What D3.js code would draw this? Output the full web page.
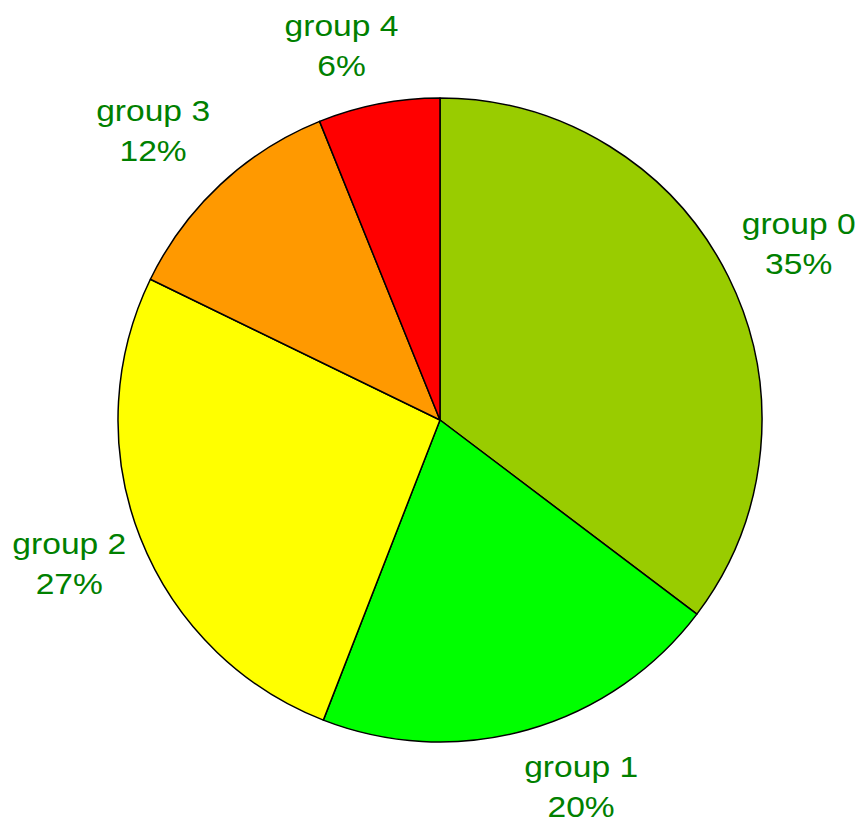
<!DOCTYPE html>
<html>
<head>
<meta charset="utf-8">
<script src="https://cdn.jsdelivr.net/npm/d3@7"></script>
<style>
  body { margin: 0; background: #fff; }
  svg text { font-family: "Liberation Sans", Arial, sans-serif; }
</style>
</head>
<body>
<div id="my_dataviz"></div>
<script>
// data (slice shares, in percent)
var groups = ["group 0", "group 1", "group 2", "group 3", "group 4"];
var shares = [35.3, 20.6, 26.3, 11.7, 6.1];
var percentLabels = ["35%", "20%", "27%", "12%", "6%"];
var sliceColors = ["#99cc00", "#00ff00", "#ffff00", "#ff9900", "#ff0000"];

// size of the page and the pie
var width = 859,
  height = 822,
  radius = 322,
  labelRadius = 337,
  stretchX = 1.12;

var svg = d3.select("#my_dataviz")
  .append("svg")
    .attr("width", width)
    .attr("height", height)
  .append("g")
    .attr("transform", "translate(440,420)");

var rows = groups.map(function(g, i) {
  return { name: g, value: shares[i], pct: percentLabels[i], color: sliceColors[i] };
});

// clockwise from 12 o'clock, no sorting
var pie = d3.pie()
  .sort(null)
  .value(function(d) { return d.value; });

var arc = d3.arc()
  .innerRadius(0)
  .outerRadius(radius);

var arcs = pie(rows);

svg.selectAll("path.slice")
  .data(arcs)
  .enter()
  .append("path")
    .attr("class", "slice")
    .attr("d", arc)
    .style("fill", function(d) { return d.data.color; })
    .style("stroke", "#000")
    .style("stroke-width", 1.5)
    .style("stroke-linejoin", "round");

// labels: two centred lines, box pushed out past the rim
var labels = svg.selectAll("text.lbl")
  .data(arcs)
  .enter()
  .append("text")
    .attr("class", "lbl")
    .attr("text-anchor", "middle")
    .style("font-size", "30px")
    .style("fill", "#008000");

labels.append("tspan")
  .attr("x", 0)
  .attr("y", -10)
  .text(function(d) { return d.data.name; });
labels.append("tspan")
  .attr("x", 0)
  .attr("y", 30)
  .text(function(d) { return d.data.pct; });

labels.each(function(d) {
  var a = (d.startAngle + d.endAngle) / 2;
  var s = Math.sin(a),
    c = -Math.cos(a);
  var w = this.getBBox().width * stretchX;
  // shift the box away from the rim, less so near the vertical / horizontal
  var ww = Math.min(w / 2, 180 * Math.abs(s)),
    hh = Math.min(43, 58 * Math.abs(c));
  var cx = labelRadius * s + (s >= 0 ? 1 : -1) * ww;
  var cy = labelRadius * c + (c >= 0 ? 1 : -1) * hh;
  d3.select(this).attr("transform", "translate(" + cx + "," + cy + ") scale(" + stretchX + ",1)");
});
</script>
</body>
</html>
